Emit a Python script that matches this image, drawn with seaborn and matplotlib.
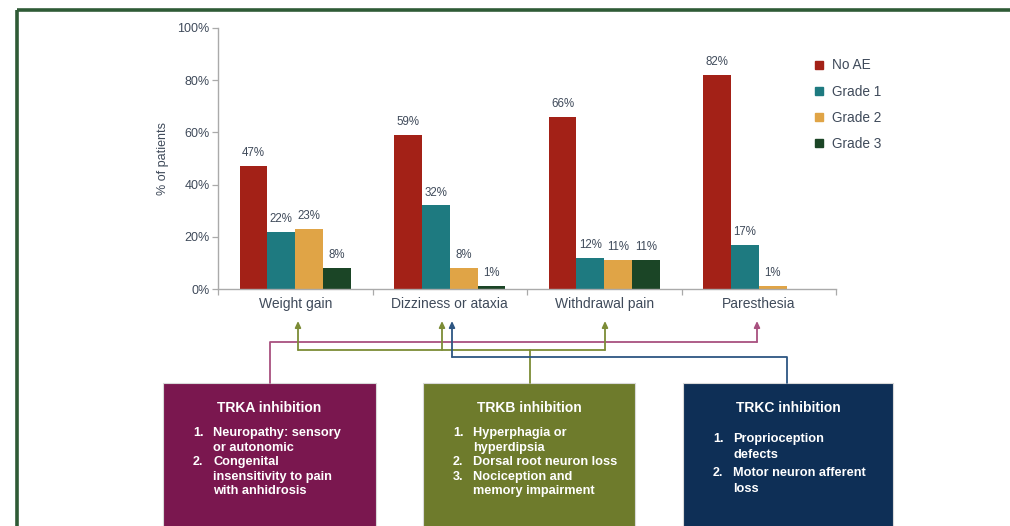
import matplotlib
matplotlib.use("Agg")
import matplotlib.pyplot as plt
from matplotlib.patches import Rectangle
from matplotlib.lines import Line2D
import seaborn as sns
import pandas as pd

# ---------------- data ----------------
events = ["Weight gain", "Dizziness or ataxia", "Withdrawal pain", "Paresthesia"]
grades = ["No AE", "Grade 1", "Grade 2", "Grade 3"]
no_ae = [47, 59, 66, 82]
grade1 = [22, 32, 12, 17]
grade2 = [23, 8, 11, 1]
grade3 = [8, 1, 11, 0]
y_ticks = [0, 20, 40, 60, 80, 100]
y_tick_labels = ["0%", "20%", "40%", "60%", "80%", "100%"]
y_label = "% of patients"

box_titles = ["TRKA inhibition", "TRKB inhibition", "TRKC inhibition"]
trka_items = [["Neuropathy: sensory", "or autonomic"],
              ["Congenital", "insensitivity to pain", "with anhidrosis"]]
trkb_items = [["Hyperphagia or", "hyperdipsia"],
              ["Dorsal root neuron loss"],
              ["Nociception and", "memory impairment"]]
trkc_items = [["Proprioception", "defects"],
              ["Motor neuron afferent", "loss"]]

# ---------------- style ----------------
bar_colors = ["#A32117", "#1E7A80", "#E0A446", "#1B4526"]
box_colors = ["#7A174F", "#6E7B2C", "#0E2F56"]
link_colors = ["#A8507F", "#7C8C36", "#2D5682"]
text_col = "#3f4a5a"
border_col = "#2F5B36"

sns.set_theme(style="white")
plt.rcParams["font.family"] = ["Liberation Sans", "DejaVu Sans"]

W, H = 1010, 526
fig = plt.figure(figsize=(W / 100, H / 100), dpi=100)

# overlay axes in pixel coordinates
ov = fig.add_axes([0, 0, 1, 1])
ov.set_xlim(0, W)
ov.set_ylim(H, 0)
ov.axis("off")
ov.set_zorder(0)

# border (top and left)
ov.plot([17, W + 5], [10, 10], color=border_col, lw=2.6, solid_capstyle="butt")
ov.plot([17, 17], [10, H + 5], color=border_col, lw=2.6, solid_capstyle="butt")

# ---------------- bar chart ----------------
ax = fig.add_axes([218 / W, 1 - 289 / H, (836 - 218) / W, (289 - 28) / H])
ax.set_zorder(1)
ax.patch.set_alpha(0)

rows = []
for gname, vals in zip(grades, [no_ae, grade1, grade2, grade3]):
    for ev, v in zip(events, vals):
        rows.append({"Event": ev, "Grade": gname, "Pct": v})
df = pd.DataFrame(rows)

sns.barplot(data=df, x="Event", y="Pct", hue="Grade", order=events,
            hue_order=grades, palette=bar_colors, width=0.72, gap=0,
            saturation=1, linewidth=0, legend=False, ax=ax)

for cont, vals in zip(ax.containers, [no_ae, grade1, grade2, grade3]):
    ax.bar_label(cont, labels=[f"{v}%" if v > 0 else "" for v in vals],
                 padding=5, fontsize=8.3, color=text_col)

ax.set_xlim(-0.5, 3.5)
ax.set_ylim(0, 100)
ax.set_yticks(y_ticks)
ax.set_yticklabels(y_tick_labels, fontsize=9, color=text_col)
ax.set_xticks([-0.5, 0.5, 1.5, 2.5, 3.5])
ax.set_xticklabels([""] * 5)
ax.set_xticks(range(len(events)), minor=True)
ax.set_xticklabels(events, minor=True, fontsize=10, color=text_col)
ax.tick_params(axis="x", which="major", length=4, width=0.9, color="#aaaaaa",
               direction="out", bottom=True)
ax.tick_params(axis="x", which="minor", length=0, pad=6)
ax.tick_params(axis="y", length=4, width=0.9, color="#aaaaaa", direction="out",
               left=True, pad=2)
ax.set_xlabel("")
ax.set_ylabel(y_label, fontsize=9, color=text_col, labelpad=6)
for s in ["top", "right"]:
    ax.spines[s].set_visible(False)
for s in ["left", "bottom"]:
    ax.spines[s].set_color("#aaaaaa")
    ax.spines[s].set_linewidth(1.0)
ax.grid(False)

handles = [Line2D([0], [0], marker="s", linestyle="", markersize=6,
                  markerfacecolor=c, markeredgecolor=c) for c in bar_colors]
fig.legend(handles, grades, loc="upper left",
           bbox_to_anchor=(808 / W, 1 - 53 / H), frameon=False, fontsize=9.8,
           labelcolor=text_col, handlelength=0.8, handletextpad=0.6,
           labelspacing=0.9, borderaxespad=0)

# ---------------- connectors ----------------
lw = 1.3
tip_y = 321
def arrow_up(x, y0, color):
    ov.annotate("", xy=(x, tip_y), xytext=(x, y0),
                arrowprops=dict(arrowstyle="-|>,head_length=0.3,head_width=0.14",
                                color=color, lw=lw, shrinkA=0, shrinkB=0))

# TRKA (pink): Paresthesia
ov.plot([270, 270, 757], [383, 342, 342], color=link_colors[0], lw=lw)
arrow_up(757, 342, link_colors[0])
# TRKB (green): Weight gain, Dizziness, Withdrawal pain
ov.plot([530, 530], [383, 350], color=link_colors[1], lw=lw)
ov.plot([298, 605], [350, 350], color=link_colors[1], lw=lw)
for x in [298, 442, 605]:
    arrow_up(x, 350, link_colors[1])
# TRKC (blue): Dizziness
ov.plot([787, 787, 452], [383, 357, 357], color=link_colors[2], lw=lw)
arrow_up(452, 357, link_colors[2])

# ---------------- boxes ----------------
boxes = [(163, 376), (423, 635), (683, 893)]
items_all = [trka_items, trkb_items, trkc_items]
first_line = [433, 433, 439]
pitch = [14.6, 14.6, 16.3]
item_gap = [0, 0, 1.5]
for (x0, x1), col, title, items, y0, p, g in zip(boxes, box_colors, box_titles,
                                                 items_all, first_line, pitch, item_gap):
    ov.add_patch(Rectangle((x0, 383), x1 - x0, H - 383 + 5, facecolor=col,
                           edgecolor="#d9d9d9", lw=0.8))
    ov.text((x0 + x1) / 2, 408, title, color="white", fontsize=10,
            fontweight="bold", ha="center", va="center")
    y = y0
    for i, item in enumerate(items):
        ov.text(x0 + 30, y, f"{i + 1}.", color="white", fontsize=9,
                fontweight="bold", ha="left", va="center")
        for line in item:
            ov.text(x0 + 50, y, line, color="white", fontsize=9.2,
                    fontweight="bold", ha="left", va="center")
            y += p
        y += g

fig.savefig("out.png", dpi=100)
